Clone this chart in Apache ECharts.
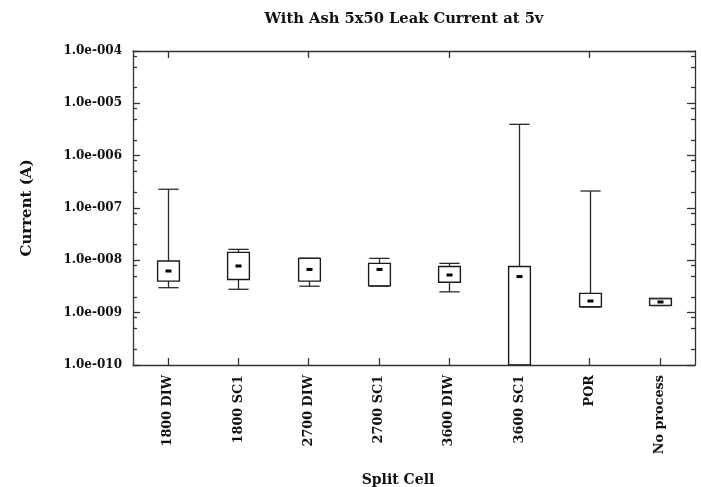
<!DOCTYPE html>
<html>
<head>
<meta charset="utf-8">
<script src="https://cdn.jsdelivr.net/npm/echarts@6/dist/echarts.min.js"></script>
<style>html,body{margin:0;padding:0;background:#fff}#c{width:701px;height:487px}</style>
</head>
<body>
<div id="c"></div>
<script>
const categories = ['1800 DIW', '1800 SC1', '2700 DIW', '2700 SC1', '3600 DIW', '3600 SC1', 'POR', 'No process'];
// box statistics in amperes
const whiskerLow = [3.0e-9, 2.8e-9, 3.2e-9, 3.2e-9, 2.5e-9, 1.0e-10, 1.28e-9, 1.36e-9];
const quartile1  = [4.0e-9, 4.3e-9, 4.0e-9, 3.25e-9, 3.8e-9, 1.0e-10, 1.3e-9, 1.38e-9];
const medians    = [6.25e-9, 7.8e-9, 6.7e-9, 6.7e-9, 5.25e-9, 4.9e-9, 1.67e-9, 1.6e-9];
const quartile3  = [9.7e-9, 1.42e-8, 1.09e-8, 8.75e-9, 7.6e-9, 7.6e-9, 2.34e-9, 1.86e-9];
const whiskerHigh= [2.28e-7, 1.62e-8, 1.1e-8, 1.09e-8, 8.75e-9, 3.97e-6, 2.11e-7, 1.86e-9];
const yTickExponents = [-10, -9, -8, -7, -6, -5, -4];
const minorMantissas = [2, 5, 8];

const L = Math.log10;
const seriesData = categories.map((c, i) => [i, L(whiskerLow[i]), L(quartile1[i]), L(medians[i]), L(quartile3[i]), L(whiskerHigh[i])]);
const minorTicks = [];
yTickExponents.slice(0, -1).forEach(e => minorMantissas.forEach(m => minorTicks.push(e + L(m))));

const FONT = 'DejaVu Serif';
const AX = '#333';
function expLabel(v) {
  const n = Math.round(v);
  return '1.0e-' + String(-n).padStart(3, '0');
}
const yBase = { type: 'value', min: -10, max: -4, interval: 1, splitLine: { show: false } };

const chart = echarts.init(document.getElementById('c'));
chart.setOption({
  animation: false,
  title: [
    {
      text: 'With Ash 5x50 Leak Current at 5v',
      left: 399, top: 7, textAlign: 'center',
      textStyle: { fontFamily: FONT, fontWeight: 'bold', fontSize: 14.7, color: '#111' }
    },
    {
      text: 'Split Cell',
      left: 393, top: 468, textAlign: 'center',
      textStyle: { fontFamily: FONT, fontWeight: 'bold', fontSize: 14, color: '#111' }
    }
  ],
  grid: { left: 133, right: 6, top: 51, bottom: 122, outerBoundsMode: 'none', containLabel: false },
  xAxis: [
    {
      type: 'category', data: categories, position: 'bottom',
      axisLine: { show: true, lineStyle: { color: AX, width: 1.3 } },
      axisTick: { show: true, inside: true, alignWithLabel: true, length: 7, lineStyle: { color: AX, width: 1.3 } },
      axisLabel: { rotate: 90, margin: 10, fontFamily: FONT, fontWeight: 'bold', fontSize: 12.8, color: '#111', interval: 0 },
      splitLine: { show: false }
    },
    {
      type: 'category', data: categories, position: 'top',
      axisLine: { show: true, lineStyle: { color: AX, width: 1.3 } },
      axisTick: { show: true, inside: true, alignWithLabel: true, length: 7, lineStyle: { color: AX, width: 1.3 } },
      axisLabel: { show: false }, splitLine: { show: false }
    }
  ],
  yAxis: [
    Object.assign({}, yBase, {
      position: 'left',
      name: 'Current (A)', nameLocation: 'middle', nameGap: 98, nameRotate: 90,
      nameTextStyle: { fontFamily: FONT, fontWeight: 'bold', fontSize: 15, color: '#111' },
      axisLine: { show: true, lineStyle: { color: AX, width: 1.3 } },
      axisTick: { show: true, inside: true, length: 7, lineStyle: { color: AX, width: 1.3 } },
      axisLabel: { margin: 11, formatter: expLabel, fontFamily: FONT, fontWeight: 'bold', fontSize: 12, color: '#111' }
    }),
    Object.assign({}, yBase, {
      position: 'left',
      axisLine: { show: false },
      axisTick: { show: true, inside: true, length: 4, customValues: minorTicks, lineStyle: { color: AX, width: 1.3 } },
      axisLabel: { show: false }
    }),
    Object.assign({}, yBase, {
      position: 'right',
      axisLine: { show: true, lineStyle: { color: AX, width: 1.3 } },
      axisTick: { show: true, inside: true, length: 8, lineStyle: { color: AX, width: 1.3 } },
      axisLabel: { show: false }
    }),
    Object.assign({}, yBase, {
      position: 'right',
      axisLine: { show: false },
      axisTick: { show: true, inside: true, length: 4, customValues: minorTicks, lineStyle: { color: AX, width: 1.3 } },
      axisLabel: { show: false }
    })
  ],
  series: [{
    type: 'custom',
    xAxisIndex: 0, yAxisIndex: 0,
    clip: true,
    encode: { x: 0, y: [1, 2, 3, 4, 5] },
    data: seriesData,
    renderItem: function (params, api) {
      const x = api.value(0);
      const pMin = api.coord([x, api.value(1)]);
      const pQ1 = api.coord([x, api.value(2)]);
      const pMed = api.coord([x, api.value(3)]);
      const pQ3 = api.coord([x, api.value(4)]);
      const pMax = api.coord([x, api.value(5)]);
      const bw = api.size([1, 0])[0] * 0.31;
      const cw = bw * 0.93;
      const cx = Math.round(pMed[0]) + 0.5;
      const ls = { stroke: '#2a2a2a', lineWidth: 1.3 };
      return {
        type: 'group',
        children: [
          { type: 'line', shape: { x1: cx, y1: pQ3[1], x2: cx, y2: pMax[1] }, style: ls },
          { type: 'line', shape: { x1: cx, y1: pQ1[1], x2: cx, y2: pMin[1] }, style: ls },
          { type: 'rect', shape: { x: cx - bw / 2, y: pQ3[1], width: bw, height: pQ1[1] - pQ3[1] }, style: { fill: '#fff', stroke: '#1a1a1a', lineWidth: 1.4 } },
          { type: 'line', shape: { x1: cx - cw / 2, y1: pMax[1], x2: cx + cw / 2, y2: pMax[1] }, style: ls },
          { type: 'line', shape: { x1: cx - cw / 2, y1: pMin[1], x2: cx + cw / 2, y2: pMin[1] }, style: ls },
          { type: 'rect', shape: { x: cx - 3, y: pMed[1] - 1.5, width: 6, height: 3 }, style: { fill: '#000' } }
        ]
      };
    }
  }]
});
</script>
</body>
</html>
